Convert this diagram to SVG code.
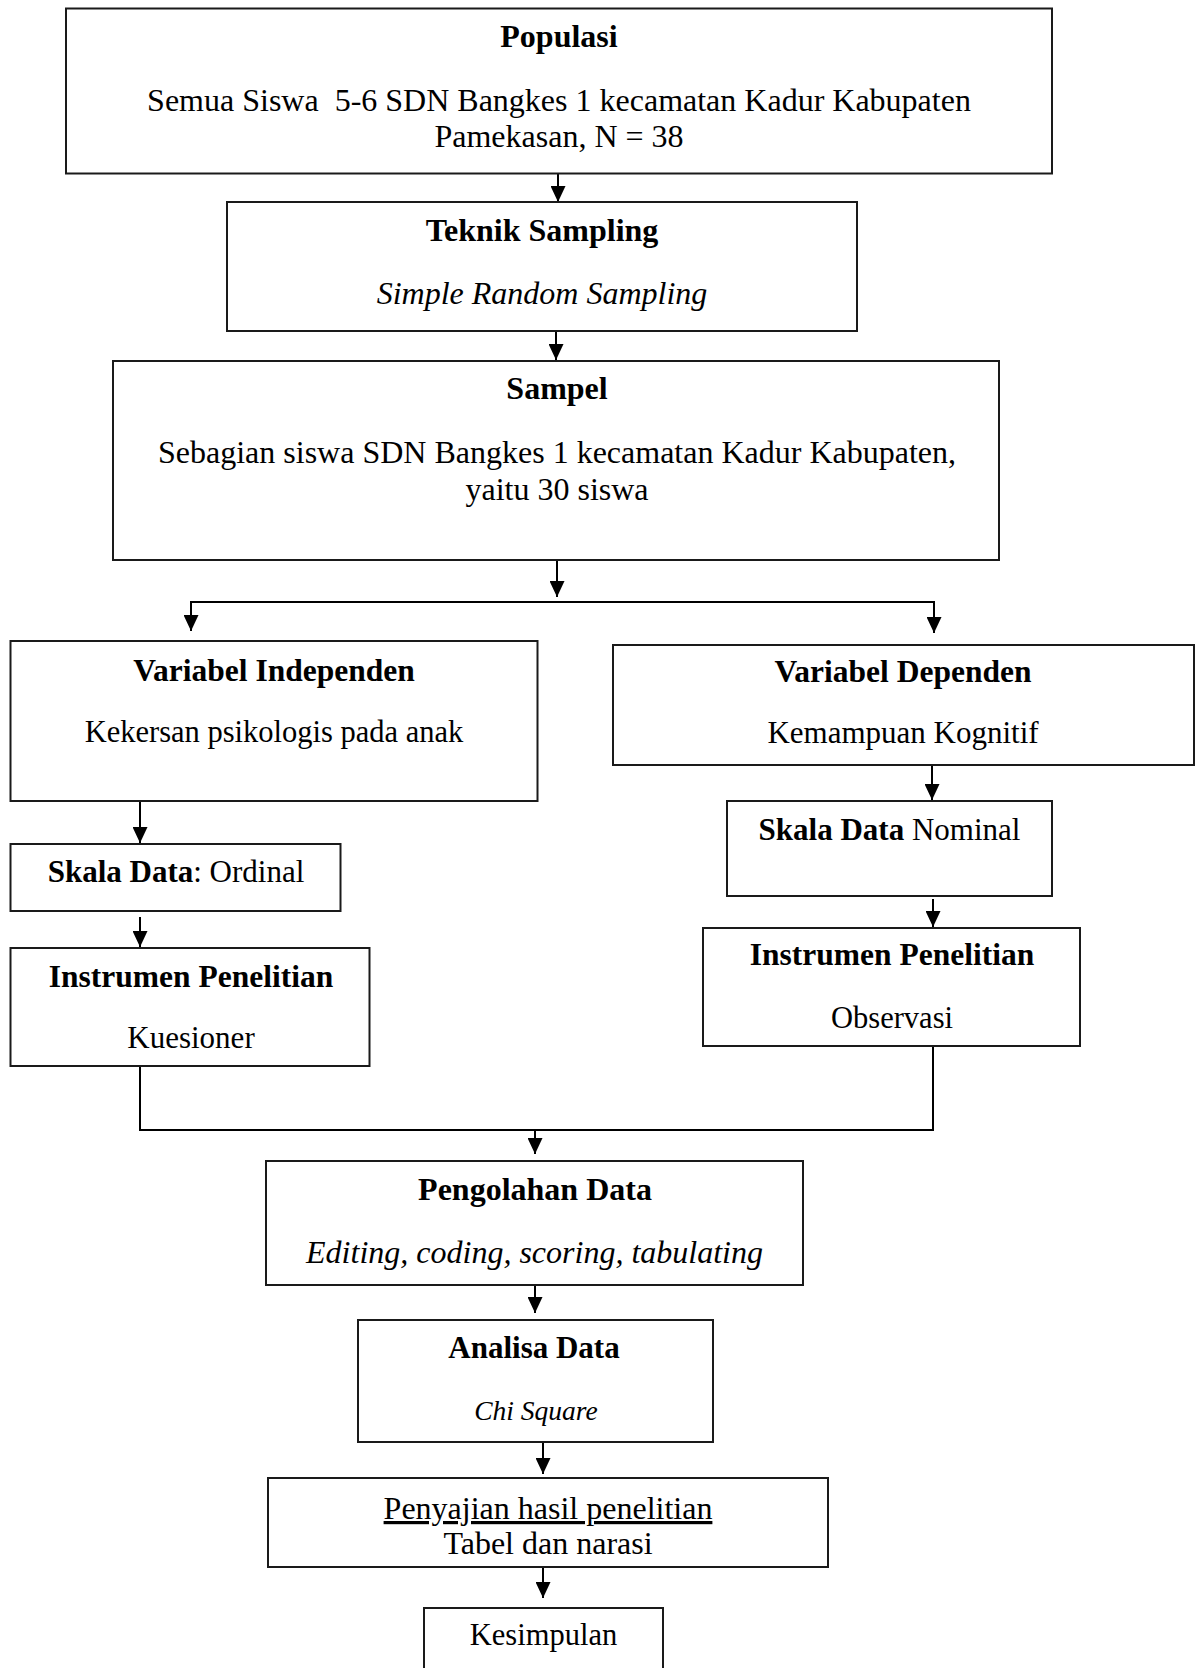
<svg xmlns="http://www.w3.org/2000/svg" width="1201" height="1668" viewBox="0 0 1201 1668">
<style>
  .box { fill: #ffffff; stroke: #1a1a1a; stroke-width: 2; }
  .conn { stroke: #000000; stroke-width: 2; fill: none; }
  text { font-family: "Liberation Serif", "Times New Roman", serif; fill: #000000; text-anchor: middle; }
  .t { font-size: 32px; }
  .g { font-size: 31px; }
  .b { font-weight: bold; }
  .i { font-style: italic; }
  .u { text-decoration: underline; }
</style>
<defs>
  <marker id="arrow" markerUnits="userSpaceOnUse" markerWidth="16" markerHeight="15" viewBox="0 0 16 15" refX="16" refY="7.5" orient="auto">
    <path d="M0,0 L16,7.5 L0,15 z" fill="#000000"/>
  </marker>
</defs>
<rect width="1201" height="1668" fill="#ffffff"/>

<g id="connectors">
  <line class="conn" x1="558" y1="174" x2="558" y2="202" marker-end="url(#arrow)"/>
  <line class="conn" x1="556" y1="332" x2="556" y2="360" marker-end="url(#arrow)"/>
  <line class="conn" x1="557" y1="561" x2="557" y2="597" marker-end="url(#arrow)"/>
  <line class="conn" x1="190" y1="602" x2="935" y2="602"/>
  <line class="conn" x1="191" y1="602" x2="191" y2="631" marker-end="url(#arrow)"/>
  <line class="conn" x1="934" y1="602" x2="934" y2="633" marker-end="url(#arrow)"/>
  <line class="conn" x1="140" y1="802" x2="140" y2="843" marker-end="url(#arrow)"/>
  <line class="conn" x1="140" y1="917" x2="140" y2="947" marker-end="url(#arrow)"/>
  <line class="conn" x1="932" y1="766" x2="932" y2="800" marker-end="url(#arrow)"/>
  <line class="conn" x1="933" y1="899" x2="933" y2="927" marker-end="url(#arrow)"/>
  <polyline class="conn" points="140,1067 140,1130 933,1130 933,1047"/>
  <line class="conn" x1="535" y1="1130" x2="535" y2="1154" marker-end="url(#arrow)"/>
  <line class="conn" x1="535" y1="1286" x2="535" y2="1313" marker-end="url(#arrow)"/>
  <line class="conn" x1="543" y1="1443" x2="543" y2="1474" marker-end="url(#arrow)"/>
  <line class="conn" x1="543" y1="1568" x2="543" y2="1598" marker-end="url(#arrow)"/>
</g>

<g id="populasi">
  <rect class="box" x="66" y="8.5" width="986" height="165"/>
  <text class="t b" x="559" y="47">Populasi</text>
  <text class="t" x="559" y="111" xml:space="preserve">Semua Siswa  5-6 SDN Bangkes 1 kecamatan Kadur Kabupaten</text>
  <text class="t" x="559" y="147">Pamekasan, N = 38</text>
</g>

<g id="teknik-sampling">
  <rect class="box" x="227" y="202" width="630" height="129"/>
  <text class="t b" x="542" y="241">Teknik Sampling</text>
  <text class="t i" x="542" y="304">Simple Random Sampling</text>
</g>

<g id="sampel">
  <rect class="box" x="113" y="361" width="886" height="199"/>
  <text class="t b" x="557" y="399">Sampel</text>
  <text class="t" x="557" y="463">Sebagian siswa SDN Bangkes 1 kecamatan Kadur Kabupaten,</text>
  <text class="t" x="557" y="500">yaitu 30 siswa</text>
</g>

<g id="variabel-independen">
  <rect class="box" x="10.5" y="641" width="527" height="160"/>
  <text class="b" font-size="31.5" x="274" y="681">Variabel Independen</text>
  <text font-size="30.5" x="274" y="742">Kekersan psikologis pada anak</text>
</g>

<g id="variabel-dependen">
  <rect class="box" x="613" y="645" width="581" height="120"/>
  <text class="b" font-size="31.5" x="903" y="682">Variabel Dependen</text>
  <text font-size="31" x="903" y="743">Kemampuan Kognitif</text>
</g>

<g id="skala-ordinal">
  <rect class="box" x="10.5" y="844" width="330" height="67"/>
  <text class="g" x="176" y="882"><tspan class="b">Skala Data</tspan>: Ordinal</text>
</g>

<g id="instrumen-kiri">
  <rect class="box" x="10.5" y="948" width="359" height="118"/>
  <text class="b" font-size="31.5" x="191" y="987">Instrumen Penelitian</text>
  <text class="g" x="191" y="1048">Kuesioner</text>
</g>

<g id="skala-nominal">
  <rect class="box" x="727" y="801" width="325" height="95"/>
  <text class="g" x="889.5" y="840"><tspan class="b">Skala Data</tspan> Nominal</text>
</g>

<g id="instrumen-kanan">
  <rect class="box" x="703" y="928" width="377" height="118"/>
  <text class="b" font-size="31.5" x="892" y="965">Instrumen Penelitian</text>
  <text font-size="30.5" x="892" y="1028">Observasi</text>
</g>

<g id="pengolahan-data">
  <rect class="box" x="266" y="1161" width="537" height="124"/>
  <text class="t b" x="535" y="1200">Pengolahan Data</text>
  <text class="t i" x="534.5" y="1263">Editing, coding, scoring, tabulating</text>
</g>

<g id="analisa-data">
  <rect class="box" x="358" y="1320" width="355" height="122"/>
  <text class="b" font-size="31" x="534" y="1358">Analisa Data</text>
  <text class="i" font-size="27.5" x="536" y="1420">Chi Square</text>
</g>

<g id="penyajian">
  <rect class="box" x="268" y="1478" width="560" height="89"/>
  <text class="t u" x="548" y="1519">Penyajian hasil penelitian</text>
  <text class="t" x="548" y="1554">Tabel dan narasi</text>
</g>

<g id="kesimpulan">
  <rect class="box" x="424" y="1608" width="239" height="80"/>
  <text font-size="30.5" x="543.5" y="1645">Kesimpulan</text>
</g>
</svg>
